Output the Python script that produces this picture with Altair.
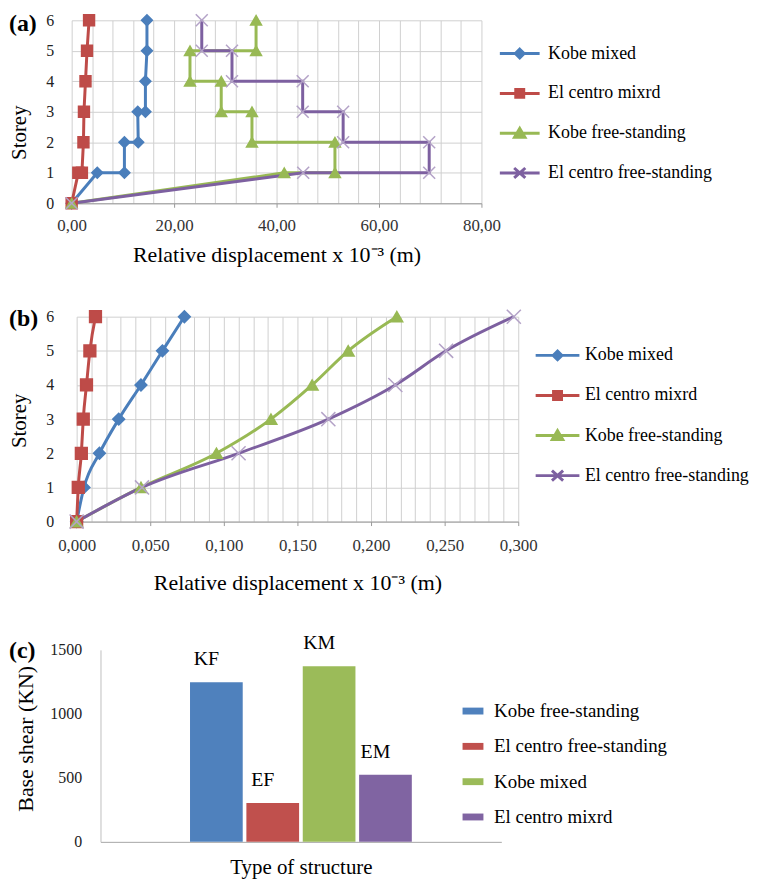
import altair as alt
import pandas as pd

FONT = "Liberation Serif"

# ---------------- shared series ----------------
series = ["Kobe mixed", "El centro mixrd", "Kobe free-standing", "El centro free-standing"]
line_colors = ["#4A7EBB", "#BE4B48", "#98B954", "#7D60A0"]
x_marker_color = "#B3A2C7"
marker_shapes = ["diamond", "square", "triangle-up"]

# ---------------- panel (a): relative displacement (x 1e-3 m) ----------------
a_km_x = [0, 5.0, 10.3, 10.3, 13.0, 12.9, 14.4, 14.4, 14.7, 14.7]
a_km_y = [0, 1, 1, 2, 2, 3, 3, 4, 5, 6]
a_em_x = [0, 1.3, 2.0, 2.3, 2.4, 2.7, 3.0, 3.4]
a_em_y = [0, 1, 1, 2, 3, 4, 5, 6]
a_kf_x = [0, 41.5, 51.4, 51.4, 35.2, 35.2, 29.2, 29.2, 23.1, 23.1, 36.0, 36.0]
a_kf_y = [0, 1, 1, 2, 2, 3, 3, 4, 4, 5, 5, 6]
a_ef_x = [0, 45.2, 69.8, 69.8, 53.0, 53.0, 45.1, 45.1, 31.3, 31.3, 25.4, 25.4]
a_ef_y = [0, 1, 1, 2, 2, 3, 3, 4, 4, 5, 5, 6]

# ---------------- panel (b) ----------------
storeys = [0, 1, 2, 3, 4, 5, 6]
b_km = [0, 0.005, 0.0155, 0.0286, 0.0437, 0.0583, 0.0732]
b_em = [0, 0.0011, 0.0032, 0.0045, 0.0067, 0.009, 0.0128]
b_kf = [0, 0.0437, 0.095, 0.132, 0.160, 0.1845, 0.2175]
b_ef = [0, 0.0444, 0.110, 0.171, 0.2165, 0.251, 0.297]

# ---------------- panel (c): base shear ----------------
c_series = ["Kobe free-standing", "El centro free-standing", "Kobe mixed", "El centro mixrd"]
c_labels = ["KF", "EF", "KM", "EM"]
c_values = [1247, 304, 1372, 525]
c_colors = ["#4F81BD", "#C0504D", "#9BBB59", "#8064A2"]


def frame(xs_list, ys_list):
    rows = []
    for s, xs, ys in zip(series, xs_list, ys_list):
        for i, (x, y) in enumerate(zip(xs, ys)):
            rows.append({"s": s, "x": x, "y": y, "i": i})
    return pd.DataFrame(rows)


df_a = frame([a_km_x, a_em_x, a_kf_x, a_ef_x], [a_km_y, a_em_y, a_kf_y, a_ef_y])
df_b = frame([b_km, b_em, b_kf, b_ef], [storeys] * 4)
df_c = pd.DataFrame({"t": ["Type"] * 4, "s": c_series, "lab": c_labels, "v": c_values})


def pick(values):
    expr = "'" + values[-1] + "'"
    for s, v in reversed(list(zip(series[:-1], values[:-1]))):
        expr = f"datum.value === '{s}' ? '{v}' : ({expr})"
    return expr


def legend_paths(ext):
    e = f"{ext}"
    return [
        f"M-{e},0H{e}M0,-0.22L0.22,0L0,0.22L-0.22,0Z",
        f"M-{e},0H{e}M-0.2,-0.2H0.2V0.2H-0.2Z",
        f"M-{e},0H{e}M0,-0.24L0.26,0.2H-0.26Z",
        f"M-{e},0H{e}M-0.28,-0.25L0.28,0.25M-0.28,0.25L0.28,-0.25",
    ]


def line_legend(lx, ly, ext, offset, rowpad):
    paths = legend_paths(ext)
    return alt.Legend(
        orient="none", legendX=lx, legendY=ly, title=None,
        symbolType=alt.expr(pick(paths)),
        symbolFillColor=alt.expr(pick(line_colors)),
        symbolStrokeColor=alt.expr(pick(line_colors)),
        symbolSize=1600, symbolStrokeWidth=3, symbolOpacity=1,
        labelFont=FONT, labelFontSize=18, labelColor="black", labelLimit=0,
        labelOffset=offset, rowPadding=rowpad, padding=0,
    )


def note(text, x, y, size, bold=False, angle=0, align="left"):
    return alt.Chart(pd.DataFrame({"t": [text]})).mark_text(
        font=FONT, fontSize=size, fontWeight="bold" if bold else "normal",
        align=align, baseline="middle", color="black", angle=angle,
    ).encode(x=alt.value(x), y=alt.value(y), text="t:N")


GRID = "#d0d0d0"


def profile_panel(df, xaxis, xscale, ydomain, yaxis, legend, interp, msize, xsize, notes, w, h):
    x = alt.X("x:Q", scale=xscale, axis=xaxis)
    y = alt.Y("y:Q", scale=alt.Scale(domain=ydomain, nice=False), axis=yaxis)
    lines = alt.Chart(df).mark_line(strokeWidth=3, interpolate=interp).encode(
        x=x, y=y,
        color=alt.Color("s:N", scale=alt.Scale(domain=series, range=line_colors), legend=legend),
        order=alt.Order("i:Q"),
        detail="s:N",
    )
    layers = [lines]
    for k, s in enumerate(series[:3]):
        pts = alt.Chart(df).transform_filter(alt.datum.s == s).mark_point(
            shape=marker_shapes[k], filled=True, fill=line_colors[k], stroke=line_colors[k],
            strokeWidth=1.5, size=msize, opacity=1)
        layers.append(pts.encode(x=x, y=y))
    # X markers: two rotated stroke symbols
    for ang in (45, 135):
        xs = alt.Chart(df).transform_filter(alt.datum.s == series[3]).mark_point(
            shape="stroke", angle=ang, filled=False, stroke=x_marker_color,
            strokeWidth=1.5, size=xsize, opacity=1)
        layers.append(xs.encode(x=x, y=y))
    layers.extend(notes)
    return alt.layer(*layers).properties(width=w, height=h)


# ---- panel a ----
xaxis_a = alt.Axis(
    values=list(range(0, 81, 4)),
    labelExpr="datum.value % 20 === 0 ? replace(format(datum.value, '.2f'), '.', ',') : ''",
    labelOverlap=False, labelFlush=False, labelFont=FONT, labelFontSize=17, labelColor="#333333",
    labelPadding=10, tickSize=4,
    tickColor={"condition": {"test": "datum.value % 20 === 0", "value": "#999999"}, "value": "transparent"},
    grid=True, gridColor=GRID, domainColor="#999999",
    title="Relative displacement x 10⁻³ (m)", titleFont=FONT, titleFontSize=22,
    titleFontWeight="normal", titleColor="black", titlePadding=12,
)
yaxis_a = alt.Axis(
    values=storeys, format="d", labelFont=FONT, labelFontSize=16, labelColor="#222222",
    labelPadding=23, ticks=False, domain=False, grid=True, gridColor=GRID, title=None,
)
chart_a = profile_panel(
    df_a, xaxis_a, alt.Scale(domain=[0, 80], range=[-5, 407], nice=False, zero=False),
    [0, 6], yaxis_a, line_legend(424, 12, 1, 7, 8), "linear", 120, 289,
    [note("(a)", -68, 4, 24, bold=True), note("Storey", -57, 113, 21, angle=270, align="center")],
    407, 184)

# ---- panel b ----
xaxis_b = alt.Axis(
    values=[round(i * 0.01, 2) for i in range(31)],
    labelExpr="round(datum.value * 100) % 5 === 0 ? replace(format(datum.value, '.3f'), '.', ',') : ''",
    labelOverlap=False, labelFlush=False, labelFont=FONT, labelFontSize=17, labelColor="#333333",
    labelPadding=12, tickSize=4,
    tickColor={"condition": {"test": "round(datum.value * 100) % 5 === 0", "value": "#999999"},
               "value": "transparent"},
    grid=True, gridColor=GRID, domainColor="#999999",
    title="Relative displacement x 10⁻³ (m)", titleFont=FONT, titleFontSize=22,
    titleFontWeight="normal", titleColor="black", titlePadding=19,
)
yaxis_b = alt.Axis(
    values=storeys, format="d", labelFont=FONT, labelFontSize=16, labelColor="#222222",
    labelPadding=23, ticks=False, domain=False, grid=True, gridColor=GRID, title=None,
)
chart_b = profile_panel(
    df_b, xaxis_b, alt.Scale(domain=[0, 0.3], nice=False, zero=False),
    [0, 6], yaxis_b, line_legend(462, 17.4, 1.1, 6, 8.3), "monotone", 140, 400,
    [note("(b)", -68, 2.7, 24, bold=True), note("Storey", -57, 104.7, 21, angle=270, align="center")],
    444, 206)

# ---- panel c ----
xc = alt.X("t:N", scale=alt.Scale(range=[24, 427], paddingInner=0, paddingOuter=0.4036),
           axis=alt.Axis(labels=False, ticks=False, domainColor="#a6a6a6",
                         title="Type of structure", titleFont=FONT, titleFontSize=21,
                         titleFontWeight="normal", titleColor="black", titlePadding=14.5))
xo = alt.XOffset("s:N", sort=c_series, scale=alt.Scale(domain=c_series, paddingInner=0.065, paddingOuter=0))
yc = alt.Y("v:Q", scale=alt.Scale(domain=[0, 1500], nice=False),
           axis=alt.Axis(values=[0, 500, 1000, 1500], format="d", labelFont=FONT, labelFontSize=16,
                         labelColor="#222222", labelPadding=19, ticks=False, grid=False,
                         domainColor="#bfbfbf", title=None, offset=-24))
bars = alt.Chart(df_c).mark_bar().encode(
    x=xc, xOffset=xo, y=yc,
    color=alt.Color("s:N", sort=c_series, scale=alt.Scale(domain=c_series, range=c_colors),
                    legend=alt.Legend(orient="none", legendX=388, legendY=51, title=None,
                                      symbolType="M-1,-0.33H1V0.33H-1Z", symbolSize=441,
                                      symbolStrokeWidth=0, symbolOpacity=1,
                                      labelFont=FONT, labelFontSize=19, labelColor="black",
                                      labelLimit=0, labelOffset=10.7, rowPadding=14.5, padding=0)),
)
texts = alt.Chart(df_c).mark_text(font=FONT, fontSize=20, dx=-10, dy=-23, baseline="middle",
                                  color="black").encode(x=xc, xOffset=xo, y=yc, text="lab:N")
chart_c = alt.layer(
    bars, texts,
    note("(c)", -68, 1, 24, bold=True),
    note("Base shear (KN)", -51, 89.4, 22, angle=270, align="center"),
).properties(width=427, height=193)

chart = alt.vconcat(chart_a, chart_b, chart_c, spacing=40).resolve_scale(
    color="independent", x="independent", y="independent"
).properties(padding=0, background="white").configure_view(stroke=None).configure_axis(
    labelFont=FONT, titleFont=FONT
).configure_legend(labelFont=FONT)

chart.save("out.html", embed_options={"renderer": "svg", "actions": False})
